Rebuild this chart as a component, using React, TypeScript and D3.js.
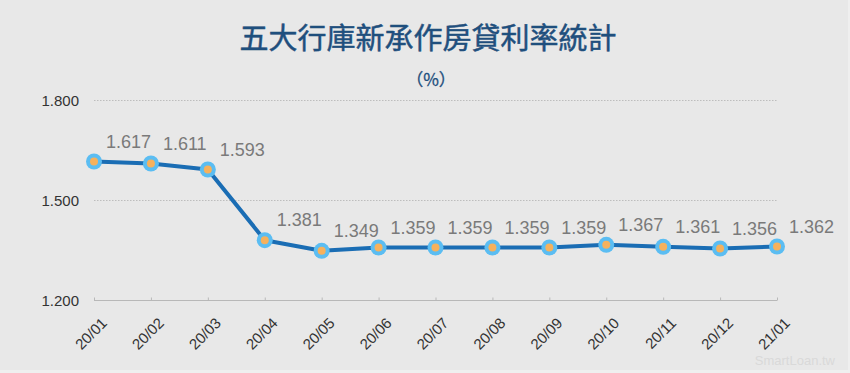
import React from "react";
import * as d3 from "d3";

const categories = ["20/01","20/02","20/03","20/04","20/05","20/06","20/07","20/08","20/09","20/10","20/11","20/12","21/01"];
const rates = [1.617,1.611,1.593,1.381,1.349,1.359,1.359,1.359,1.359,1.367,1.361,1.356,1.362];
const yTicks = [1.2, 1.5, 1.8];
const title = "五大行庫新承作房貸利率統計";
const unit = "（%）";
const watermark = "SmartLoan.tw";

const W = 850, H = 373;
const FONT = "'Liberation Sans', Arial, Helvetica, sans-serif";
const CJK = "'Noto Sans CJK TC', 'Noto Sans CJK SC', sans-serif";

export default function App() {
  const x = d3.scalePoint<string>().domain(categories).range([94, 777]);
  const y = d3.scaleLinear().domain([1.2, 1.8]).range([300.5, 100.5]);
  const line = d3.line<number>()
    .x((_, i) => x(categories[i]) as number)
    .y((d) => y(d));
  const fmt = d3.format(".3f");
  return (
    <svg width={W} height={H} style={{ position: "absolute", left: 0, top: 0, display: "block" }}>
      <rect x={0} y={0} width={W} height={H} fill="#efefef" />
      <rect x={0} y={0} width={W - 2} height={H - 3} fill="#e8e8e8" />
      <text x={428} y={49} textAnchor="middle" fontFamily={CJK} fontSize={29} fontWeight={400} fill="#1f4f7d" stroke="#1f4f7d" strokeWidth={0.5}>{title}</text>
      <text x={431} y={86} textAnchor="middle" fontFamily={CJK} fontSize={17} fill="#1f4f7d" stroke="#1f4f7d" strokeWidth={0.3}>{unit}</text>
      {yTicks.map((t) => (
        <g key={t}>
          {t !== 1.2 && (
            <line x1={94} x2={777} y1={y(t)} y2={y(t)} stroke="#bdbdbd" strokeWidth={1} strokeDasharray="1.5,1.5" />
          )}
          <text x={79} y={y(t) + 5} textAnchor="end" fontFamily={FONT} fontSize={15} fill="#333">{fmt(t)}</text>
        </g>
      ))}
      <line x1={94} x2={777} y1={y(1.2)} y2={y(1.2)} stroke="#b8b8b8" strokeWidth={1} />
      {categories.map((c) => (
        <g key={c}>
          <line x1={(x(c) as number) + 0.5} x2={(x(c) as number) + 0.5} y1={y(1.2) - 3} y2={y(1.2)} stroke="#b8b8b8" strokeWidth={1} />
          <text
            transform={`translate(${(x(c) as number) + 14},${324}) rotate(-45)`}
            textAnchor="end"
            fontFamily={FONT}
            fontSize={15}
            fill="#333"
          >{c}</text>
        </g>
      ))}
      <path d={line(rates) || ""} fill="none" stroke="#1a6db4" strokeWidth={4} strokeLinejoin="round" />
      {rates.map((v, i) => {
        const cx = x(categories[i]) as number;
        const cy = y(v);
        return (
          <g key={i}>
            <circle cx={cx} cy={cy} r={8} fill="#5bbdf2" />
            <circle cx={cx} cy={cy} r={4} fill="#f6b15c" />
            <text x={cx + 12} y={cy - 14} fontFamily={FONT} fontSize={18} fill="#7a7a7a">{fmt(v)}</text>
          </g>
        );
      })}
      <text x={835} y={365} textAnchor="end" fontFamily={FONT} fontSize={13} fill="#d9d9d9">{watermark}</text>
    </svg>
  );
}
